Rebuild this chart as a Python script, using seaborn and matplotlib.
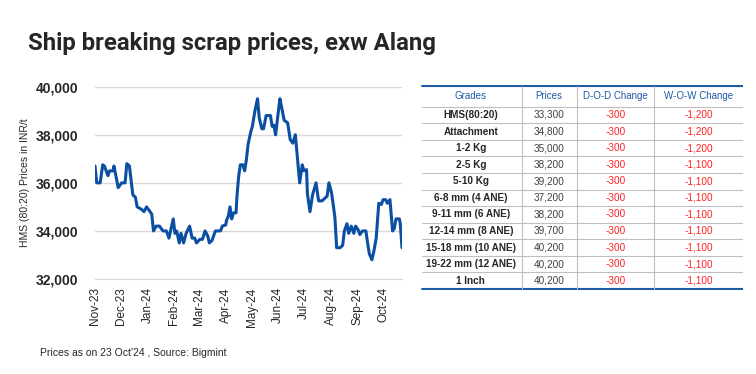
import pandas as pd
import matplotlib.pyplot as plt
import matplotlib.dates as mdates
import seaborn as sns
from matplotlib.ticker import FuncFormatter

# HMS (80:20) price series
dates = [
    "2023-11-01", "2023-11-03", "2023-11-07", "2023-11-10", "2023-11-12", "2023-11-16",
    "2023-11-18", "2023-11-22", "2023-11-23", "2023-11-28", "2023-12-02", "2023-12-06",
    "2023-12-08", "2023-12-11", "2023-12-15", "2023-12-18", "2023-12-20", "2023-12-25",
    "2023-12-28", "2023-12-31", "2024-01-04", "2024-01-06", "2024-01-08", "2024-01-11",
    "2024-01-15", "2024-01-19", "2024-01-23", "2024-01-26", "2024-01-31", "2024-02-02",
    "2024-02-04", "2024-02-07", "2024-02-09", "2024-02-12", "2024-02-15", "2024-02-19",
    "2024-02-22", "2024-02-25", "2024-02-27", "2024-03-02", "2024-03-05", "2024-03-08",
    "2024-03-11", "2024-03-13", "2024-03-16", "2024-03-20", "2024-03-26", "2024-03-28",
    "2024-04-01", "2024-04-02", "2024-04-04", "2024-04-06", "2024-04-08", "2024-04-10",
    "2024-04-13", "2024-04-14", "2024-04-16", "2024-04-18", "2024-04-21", "2024-04-23",
    "2024-04-25", "2024-04-27", "2024-04-30", "2024-05-02", "2024-05-05", "2024-05-08",
    "2024-05-10", "2024-05-13", "2024-05-15", "2024-05-18", "2024-05-23", "2024-05-25",
    "2024-05-27", "2024-05-29", "2024-06-01", "2024-06-03", "2024-06-05", "2024-06-08",
    "2024-06-12", "2024-06-15", "2024-06-18", "2024-06-21", "2024-06-23", "2024-06-26",
    "2024-06-29", "2024-07-01", "2024-07-04", "2024-07-05", "2024-07-08", "2024-07-11",
    "2024-07-15", "2024-07-18", "2024-07-22", "2024-07-25", "2024-07-28", "2024-07-30",
    "2024-08-02", "2024-08-04", "2024-08-06", "2024-08-08", "2024-08-12", "2024-08-15",
    "2024-08-17", "2024-08-20", "2024-08-22", "2024-08-25", "2024-08-28", "2024-08-30",
    "2024-09-02", "2024-09-04", "2024-09-07", "2024-09-11", "2024-09-13", "2024-09-15",
    "2024-09-18", "2024-09-20", "2024-09-23", "2024-09-26", "2024-09-29", "2024-10-01",
    "2024-10-04", "2024-10-06", "2024-10-09", "2024-10-12", "2024-10-14", "2024-10-16",
    "2024-10-20", "2024-10-21", "2024-10-23",
]
prices = [
    36700, 36000, 36000, 36750, 36700, 36300,
    36500, 36500, 36700, 35800, 36000, 36000,
    36800, 36700, 35500, 35400, 35000, 34900,
    34800, 35000, 34800, 34700, 34000, 34200,
    34200, 34000, 34000, 33700, 34500, 33900,
    34000, 33500, 33900, 33500, 33900, 34200,
    33700, 33700, 33500, 33650, 33650, 34000,
    33800, 33500, 33600, 34000, 34000, 34200,
    34250, 34450, 34600, 35000, 34500, 34750,
    34750, 35400, 36250, 36750, 36750, 36500,
    36950, 37600, 38100, 38350, 39000, 39500,
    38700, 38250, 38250, 38800, 38800, 38350,
    38400, 38000, 38900, 39500, 39150, 38600,
    38500, 37800, 37650, 38000, 37200, 36000,
    36750, 36500, 36550, 35550, 34800, 35500,
    36000, 35250, 35250, 35350, 35450, 36000,
    35600, 35100, 34550, 33300, 33300, 33400,
    34000, 34300, 33900, 34200, 33900, 34200,
    34050, 33850, 34000, 34000, 33500, 33050,
    32800, 33100, 33700, 35150, 35100, 35300,
    35300, 35150, 35300, 34000, 34100, 34500,
    34500, 34300, 33300,
]

# table on the right
grades = ["HMS(80:20)", "Attachment", "1-2 Kg", "2-5 Kg", "5-10 Kg", "6-8 mm (4 ANE)",
          "9-11 mm (6 ANE)", "12-14 mm (8 ANE)", "15-18 mm (10 ANE)", "19-22 mm (12 ANE)", "1 Inch"]
grade_prices = ["33,300", "34,800", "35,000", "38,200", "39,200", "37,200",
                "38,200", "39,700", "40,200", "40,200", "40,200"]
dod_change = ["-300"] * 11
wow_change = ["-1,200", "-1,200", "-1,200", "-1,100", "-1,100", "-1,100",
              "-1,100", "-1,100", "-1,100", "-1,100", "-1,100"]
headers = ["Grades", "Prices", "D-O-D Change", "W-O-W Change"]

df = pd.DataFrame({"date": pd.to_datetime(dates), "price": prices})

sns.set_style("white")
plt.rcParams["font.family"] = ["Liberation Sans", "DejaVu Sans"]

fig = plt.figure(figsize=(7.56, 3.74), dpi=100)

fig.text(28 / 756, 1 - 50 / 374, "Ship breaking scrap prices, exw Alang",
         fontsize=17.2, fontweight="bold", family="Roboto", va="baseline")

ax = fig.add_axes([95 / 756, 1 - 279 / 374, 307 / 756, 192.3 / 374])
sns.lineplot(data=df, x="date", y="price", color="#0b4fa3", linewidth=2.2, ax=ax)

ax.set_xlim(pd.Timestamp("2023-11-01"), pd.Timestamp("2024-10-23"))
ax.set_ylim(32000, 40000)
ax.set_yticks([32000, 34000, 36000, 38000, 40000])
ax.yaxis.set_major_formatter(FuncFormatter(lambda v, p: f"{int(v):,}"))
ax.xaxis.set_major_locator(mdates.MonthLocator())
ax.xaxis.set_major_formatter(mdates.DateFormatter("%b-%y"))
ax.grid(axis="y", color="#d9d9d9", linewidth=1)
for s in ["top", "right", "left"]:
    ax.spines[s].set_visible(False)
ax.spines["bottom"].set_color("#d9d9d9")
ax.tick_params(axis="x", rotation=90, labelsize=8.5, length=4, color="#d9d9d9", pad=2)
ax.tick_params(axis="y", length=0, labelsize=10, pad=12)
for lbl in ax.get_yticklabels():
    lbl.set_fontweight("bold")
ax.set_xlabel("")
ax.set_ylabel("HMS (80:20) Prices in INR/t", fontsize=7.5, labelpad=4)

fig.text(40 / 756, 1 - 356 / 374, "Prices as on 23 Oct'24 , Source: Bigmint", fontsize=7.5)

# table drawn in pixel-like coordinates
tx = fig.add_axes([420 / 756, 1 - 290 / 374, 323 / 756, 205 / 374])
tx.set_xlim(420, 743)
tx.set_ylim(290, 85)
tx.axis("off")

col_edges = [420, 521.7, 576.7, 654.3, 743]
header_h = 21
row_h = (289 - 85.7 - header_h) / len(grades)
top = 85.7
blue = "#1f5aa6"

tx.plot([422, 743], [top, top], color=blue, lw=1.5)
tx.plot([422, 743], [289, 289], color=blue, lw=1.5)
for i in range(len(grades)):
    yline = top + header_h + i * row_h
    tx.plot([422, 743], [yline, yline], color="#bfbfbf", lw=0.8)
for xe in col_edges[1:-1]:
    tx.plot([xe, xe], [top, 289], color="#bfbfbf", lw=0.8)

centers = [(col_edges[i] + col_edges[i + 1]) / 2 for i in range(4)]
for c, h in zip(centers, headers):
    tx.text(c, top + header_h / 2, h, ha="center", va="center", fontsize=7, color=blue)

for i in range(len(grades)):
    yc = top + header_h + (i + 0.5) * row_h
    tx.text(centers[0], yc, grades[i], ha="center", va="center", fontsize=7.2, fontweight="bold")
    tx.text(centers[1], yc, grade_prices[i], ha="center", va="center", fontsize=7.2, color="#404040")
    tx.text(centers[2], yc, dod_change[i], ha="center", va="center", fontsize=7.2, color="#ff2020")
    tx.text(centers[3], yc, wow_change[i], ha="center", va="center", fontsize=7.2, color="#ff2020")

fig.savefig("out.png", dpi=100)
